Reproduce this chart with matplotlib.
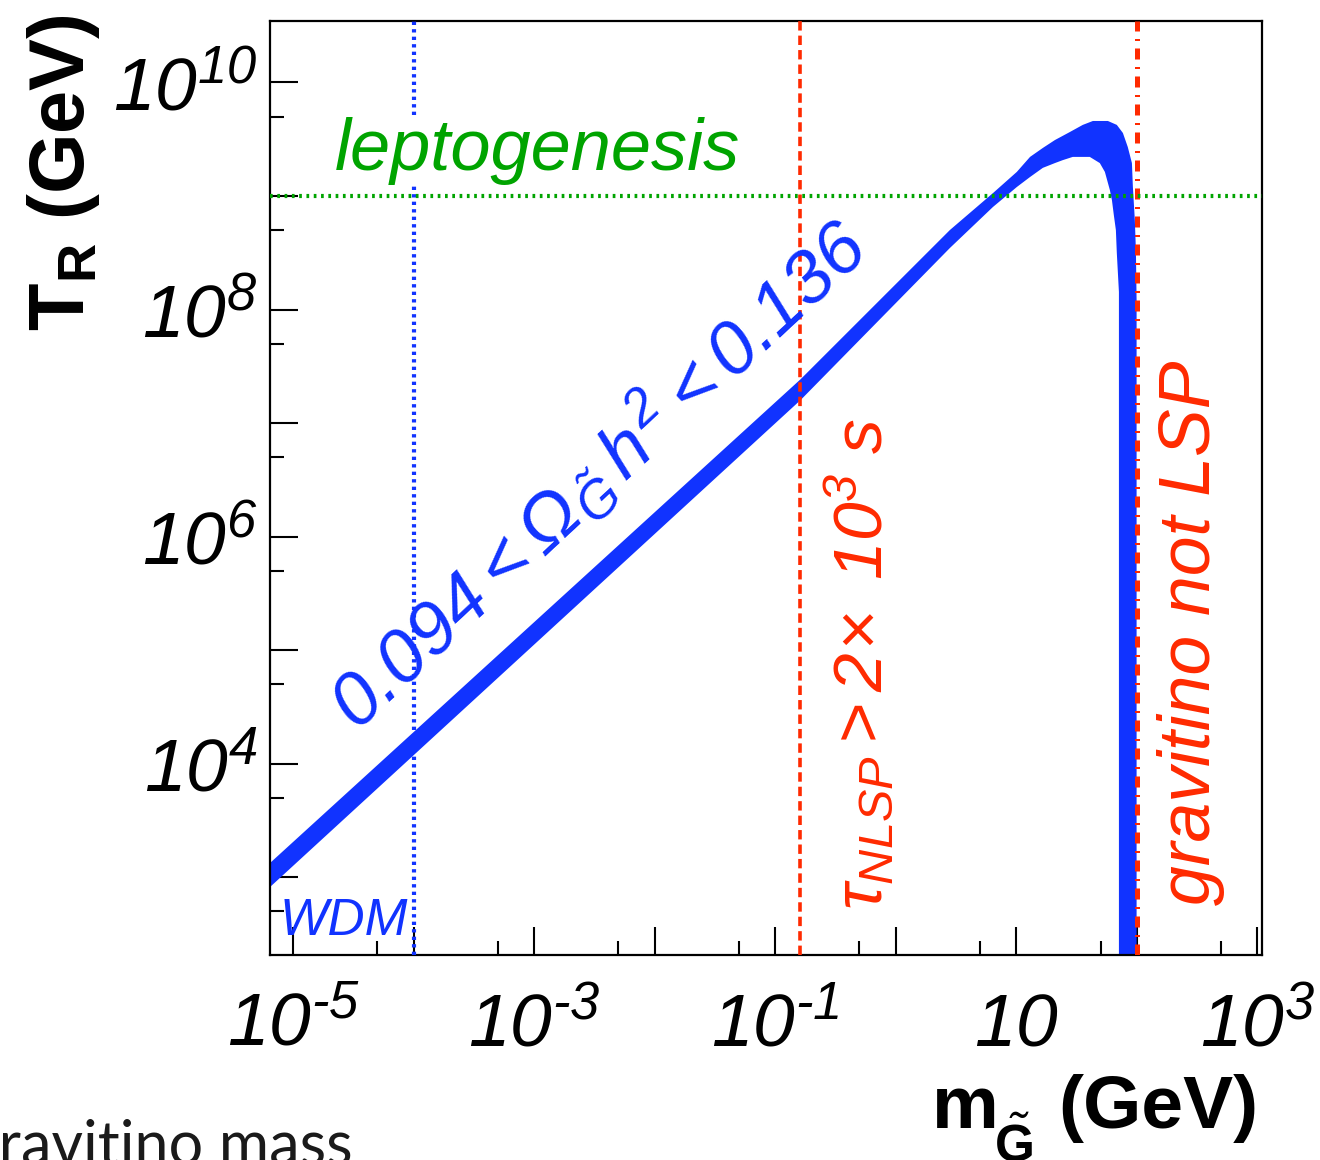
import matplotlib
matplotlib.use("Agg")
import matplotlib.pyplot as plt

plt.rcParams['font.family'] = ['Liberation Sans', 'DejaVu Sans']
plt.rcParams['mathtext.fontset'] = 'custom'
plt.rcParams['mathtext.rm'] = 'Liberation Sans:italic'
plt.rcParams['mathtext.it'] = 'Liberation Sans:italic'
plt.rcParams['mathtext.bf'] = 'Liberation Sans:bold'
plt.rcParams['mathtext.sf'] = 'Liberation Sans:italic'

BLUE = '#1133ff'
RED = '#ff2a00'
GREEN = '#00a400'

# edges of the 0.094 < Omega h^2 < 0.136 band (gravitino mass in GeV, T_R in GeV)
m_upper = [6.44e-6, 0.163, 2.81, 6.40, 10.1, 13.0, 16.6, 20.9, 27.8, 35.6,
           43.2, 57.5, 68.2, 76.6, 84.1, 91.0, 92.7, 96.2, 98.2, 99.5, 99.5]
T_upper = [1.33e3, 2.44e7, 5.01e8, 1.06e9, 1.63e9, 2.21e9, 2.65e9, 3.11e9, 3.66e9, 4.23e9,
           4.58e9, 4.58e9, 4.23e9, 3.59e9, 2.70e9, 1.95e9, 1.20e9, 6.15e8, 3.34e8, 1.21e8, 100]
m_lower = [6.44e-6, 0.163, 2.81, 6.40, 10.1, 13.0, 16.6, 20.9, 24.3, 29.4,
           40.7, 49.3, 54.3, 59.7, 62.1, 64.4, 67.0, 68.2, 71.0, 71.0]
T_lower = [817, 1.60e7, 3.48e8, 8.00e8, 1.20e9, 1.47e9, 1.77e9, 1.95e9, 2.07e9, 2.21e9,
           2.21e9, 1.95e9, 1.63e9, 1.13e9, 9.23e8, 6.81e8, 5.01e8, 3.15e8, 1.43e8, 100]

# bounds
m_wdm = 1e-4       # warm dark matter
m_tau = 0.16       # NLSP lifetime > 2x10^3 s
m_nlsp = 100       # gravitino no longer the LSP
T_lepto = 1e9      # thermal leptogenesis

x_ticks = [1e-5, 1e-4, 1e-3, 1e-2, 1e-1, 1, 10, 100, 1e3]
x_labels = [r'$10^{\text{-}5}$', '', r'$10^{\text{-}3}$', '', r'$10^{\text{-}1}$', '',
            r'$10$', '', r'$10^{3}$']
y_ticks = [1e3, 1e4, 1e5, 1e6, 1e7, 1e8, 1e9, 1e10]
y_labels = ['', r'$10^{4}$', '', r'$10^{6}$', '', r'$10^{8}$', '', r'$10^{10}$']

fig = plt.figure(figsize=(13.2, 11.6), dpi=100)
ax = fig.add_axes([0.2045, 0.1767, 0.7515, 0.8052])
ax.set_xscale('log')
ax.set_yscale('log')

ax.fill(m_upper + m_lower[::-1], T_upper + T_lower[::-1], color=BLUE, lw=0, zorder=2)

ax.axvline(m_wdm, color=BLUE, lw=3, ls=(0, (0.8, 1.0)), zorder=3)
ax.axvline(m_tau, color=RED, lw=2.6, ls=(0, (2.6, 1.4)), zorder=3)
ax.axvline(m_nlsp, color=RED, lw=3.6, ls=(0, (2.2, 1.5, 0.4, 1.5)), zorder=3)
ax.axhline(T_lepto, color=GREEN, lw=3, ls=(0, (0.65, 1.1)), zorder=3)

ax.set_xlim(6.44e-6, 1.09e3)
ax.set_ylim(206, 3.48e10)

ax.set_xticks(x_ticks)
ax.set_xticklabels(x_labels)
ax.set_xticks([5 * t for t in x_ticks[:-1]], minor=True)
ax.set_xticklabels([], minor=True)
ax.set_yticks(y_ticks)
ax.set_yticklabels(y_labels)
ax.set_yticks([5 * t for t in [100] + y_ticks[:-1]], minor=True)
ax.set_yticklabels([], minor=True)

ax.tick_params(which='both', direction='in', top=False, right=False, width=1.5)
ax.tick_params(which='major', length=20, labelsize=54)
ax.tick_params(which='minor', length=10)
ax.tick_params(axis='x', pad=26)
ax.tick_params(axis='y', pad=9)
for s in ax.spines.values():
    s.set_linewidth(1.6)

# annotations
ax.text(0.0655, 0.8405, 'leptogenesis', transform=ax.transAxes, fontsize=52,
        style='italic', color=GREEN, va='baseline',
        bbox=dict(boxstyle='square,pad=0', fc='white', ec='none'), zorder=4)
ax.text(0.0101, 0.0214, 'WDM', transform=ax.transAxes, fontsize=37,
        style='italic', color=BLUE, va='baseline', zorder=4)
ax.text(0.617, 0.048, r'$\tau_{NLSP} > 2\!\times\ 10^{3}\ s$',
        transform=ax.transAxes, fontsize=50, color=RED, rotation=90,
        rotation_mode='anchor', ha='left', va='baseline', zorder=4)
ax.text(0.9476, 0.0535, 'gravitino not LSP', transform=ax.transAxes, fontsize=51.5,
        style='italic', color=RED, rotation=90, rotation_mode='anchor',
        ha='left', va='baseline', zorder=4)
ax.text(0.088, 0.238, r'$0.094 < \Omega_{\tilde{G}}\,h^{2} < 0.136$',
        transform=ax.transAxes, fontsize=54, color=BLUE, rotation=43,
        rotation_mode='anchor', ha='left', va='baseline', zorder=4)

# x axis title: m, the G-tilde subscript and the unit
fig.text(0.706, 0.0276, 'm', fontsize=54, fontweight='bold', va='baseline')
fig.text(0.753, -0.0017, r'$\tilde{\mathbf{G}}$', fontsize=37, va='baseline')
fig.text(0.953, 0.0276, '(GeV)', fontsize=54, fontweight='bold',
         ha='right', va='baseline')
# y axis title
fig.text(0.019, 0.988, r'$\mathbf{T}_{\mathbf{R}}$ (GeV)', fontsize=56,
         fontweight='bold', rotation=90, ha='left', va='top')

fig.text(-0.025, -0.004, 'gravitino mass', fontsize=44, family='Lato',
         color='#1a1a1a', va='baseline')

fig.savefig('out.png', dpi=100)
